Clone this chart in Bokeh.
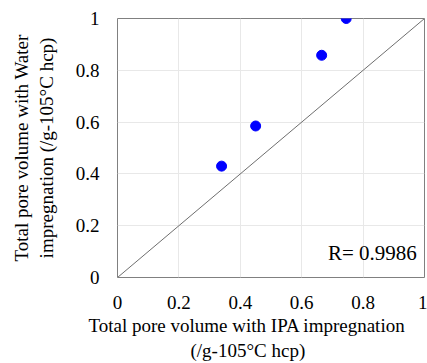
from bokeh.plotting import figure
from bokeh.models import Range1d, FixedTicker, Label, ColumnDataSource, Title
from bokeh.embed import file_html
from bokeh.resources import INLINE

# Data
ipa = [0.339, 0.450, 0.665, 0.745]
water = [0.430, 0.585, 0.858, 1.000]
tick_values = [0, 0.2, 0.4, 0.6, 0.8, 1]
tick_labels = ["0", "0.2", "0.4", "0.6", "0.8", "1"]
line_x = [0, 1]
line_y = [0, 1]
r_text = "R= 0.9986"
x_title = ["Total pore volume with IPA impregnation", "(/g-105°C hcp)"]
y_title = ["Total pore volume with Water", "impregnation (/g-105°C hcp)"]

FONT = "Liberation Serif"

p = figure(width=427, height=363, output_backend="svg", toolbar_location=None,
           x_range=Range1d(0, 1), y_range=Range1d(0, 1),
           min_border_left=117, min_border_right=3, min_border_top=18, min_border_bottom=86)
p.background_fill_color = "white"
p.border_fill_color = "white"
p.outline_line_color = "#808080"
p.outline_line_width = 1

for ax in (p.xaxis[0], p.yaxis[0]):
    ax.ticker = FixedTicker(ticks=tick_values)
    ax.major_label_overrides = {v: l for v, l in zip(tick_values, tick_labels)}
    ax.axis_line_color = None
    ax.major_tick_line_color = None
    ax.minor_tick_line_color = None
    ax.major_label_text_font = FONT
    ax.major_label_text_font_size = "19px"
    ax.major_label_text_color = "black"
    ax.major_label_standoff = 12

p.yaxis[0].axis_label = "\n".join(y_title)
p.yaxis[0].axis_label_text_font = FONT
p.yaxis[0].axis_label_text_font_size = "19px"
p.yaxis[0].axis_label_text_font_style = "normal"
p.yaxis[0].axis_label_text_color = "black"
p.yaxis[0].axis_label_standoff = 16

p.grid.grid_line_color = "#e8e8e8"
p.grid.grid_line_width = 1

p.line(line_x, line_y, line_color="#6e6e6e", line_width=1)
src = ColumnDataSource(dict(x=ipa, y=water))
p.scatter("x", "y", source=src, size=10, fill_color="#0000ff", line_color="#0000ff")

p.add_layout(Label(x=0.975, y=0.05, text=r_text, text_align="right", text_baseline="bottom",
                   text_font=FONT, text_font_size="21px", text_color="black"))

# X axis title as two lines, positioned like the reference (left of frame centre)
for txt, off, so in zip(x_title, [-29, 73], [3, 0]):
    t = Title(text=txt, align="left", offset=off, text_font=FONT, text_font_size="19px",
              text_font_style="normal", text_color="black",
              standoff=so, border_line_color=None)
    p.add_layout(t, "below")

open("out.html", "w").write(file_html(p, INLINE))
